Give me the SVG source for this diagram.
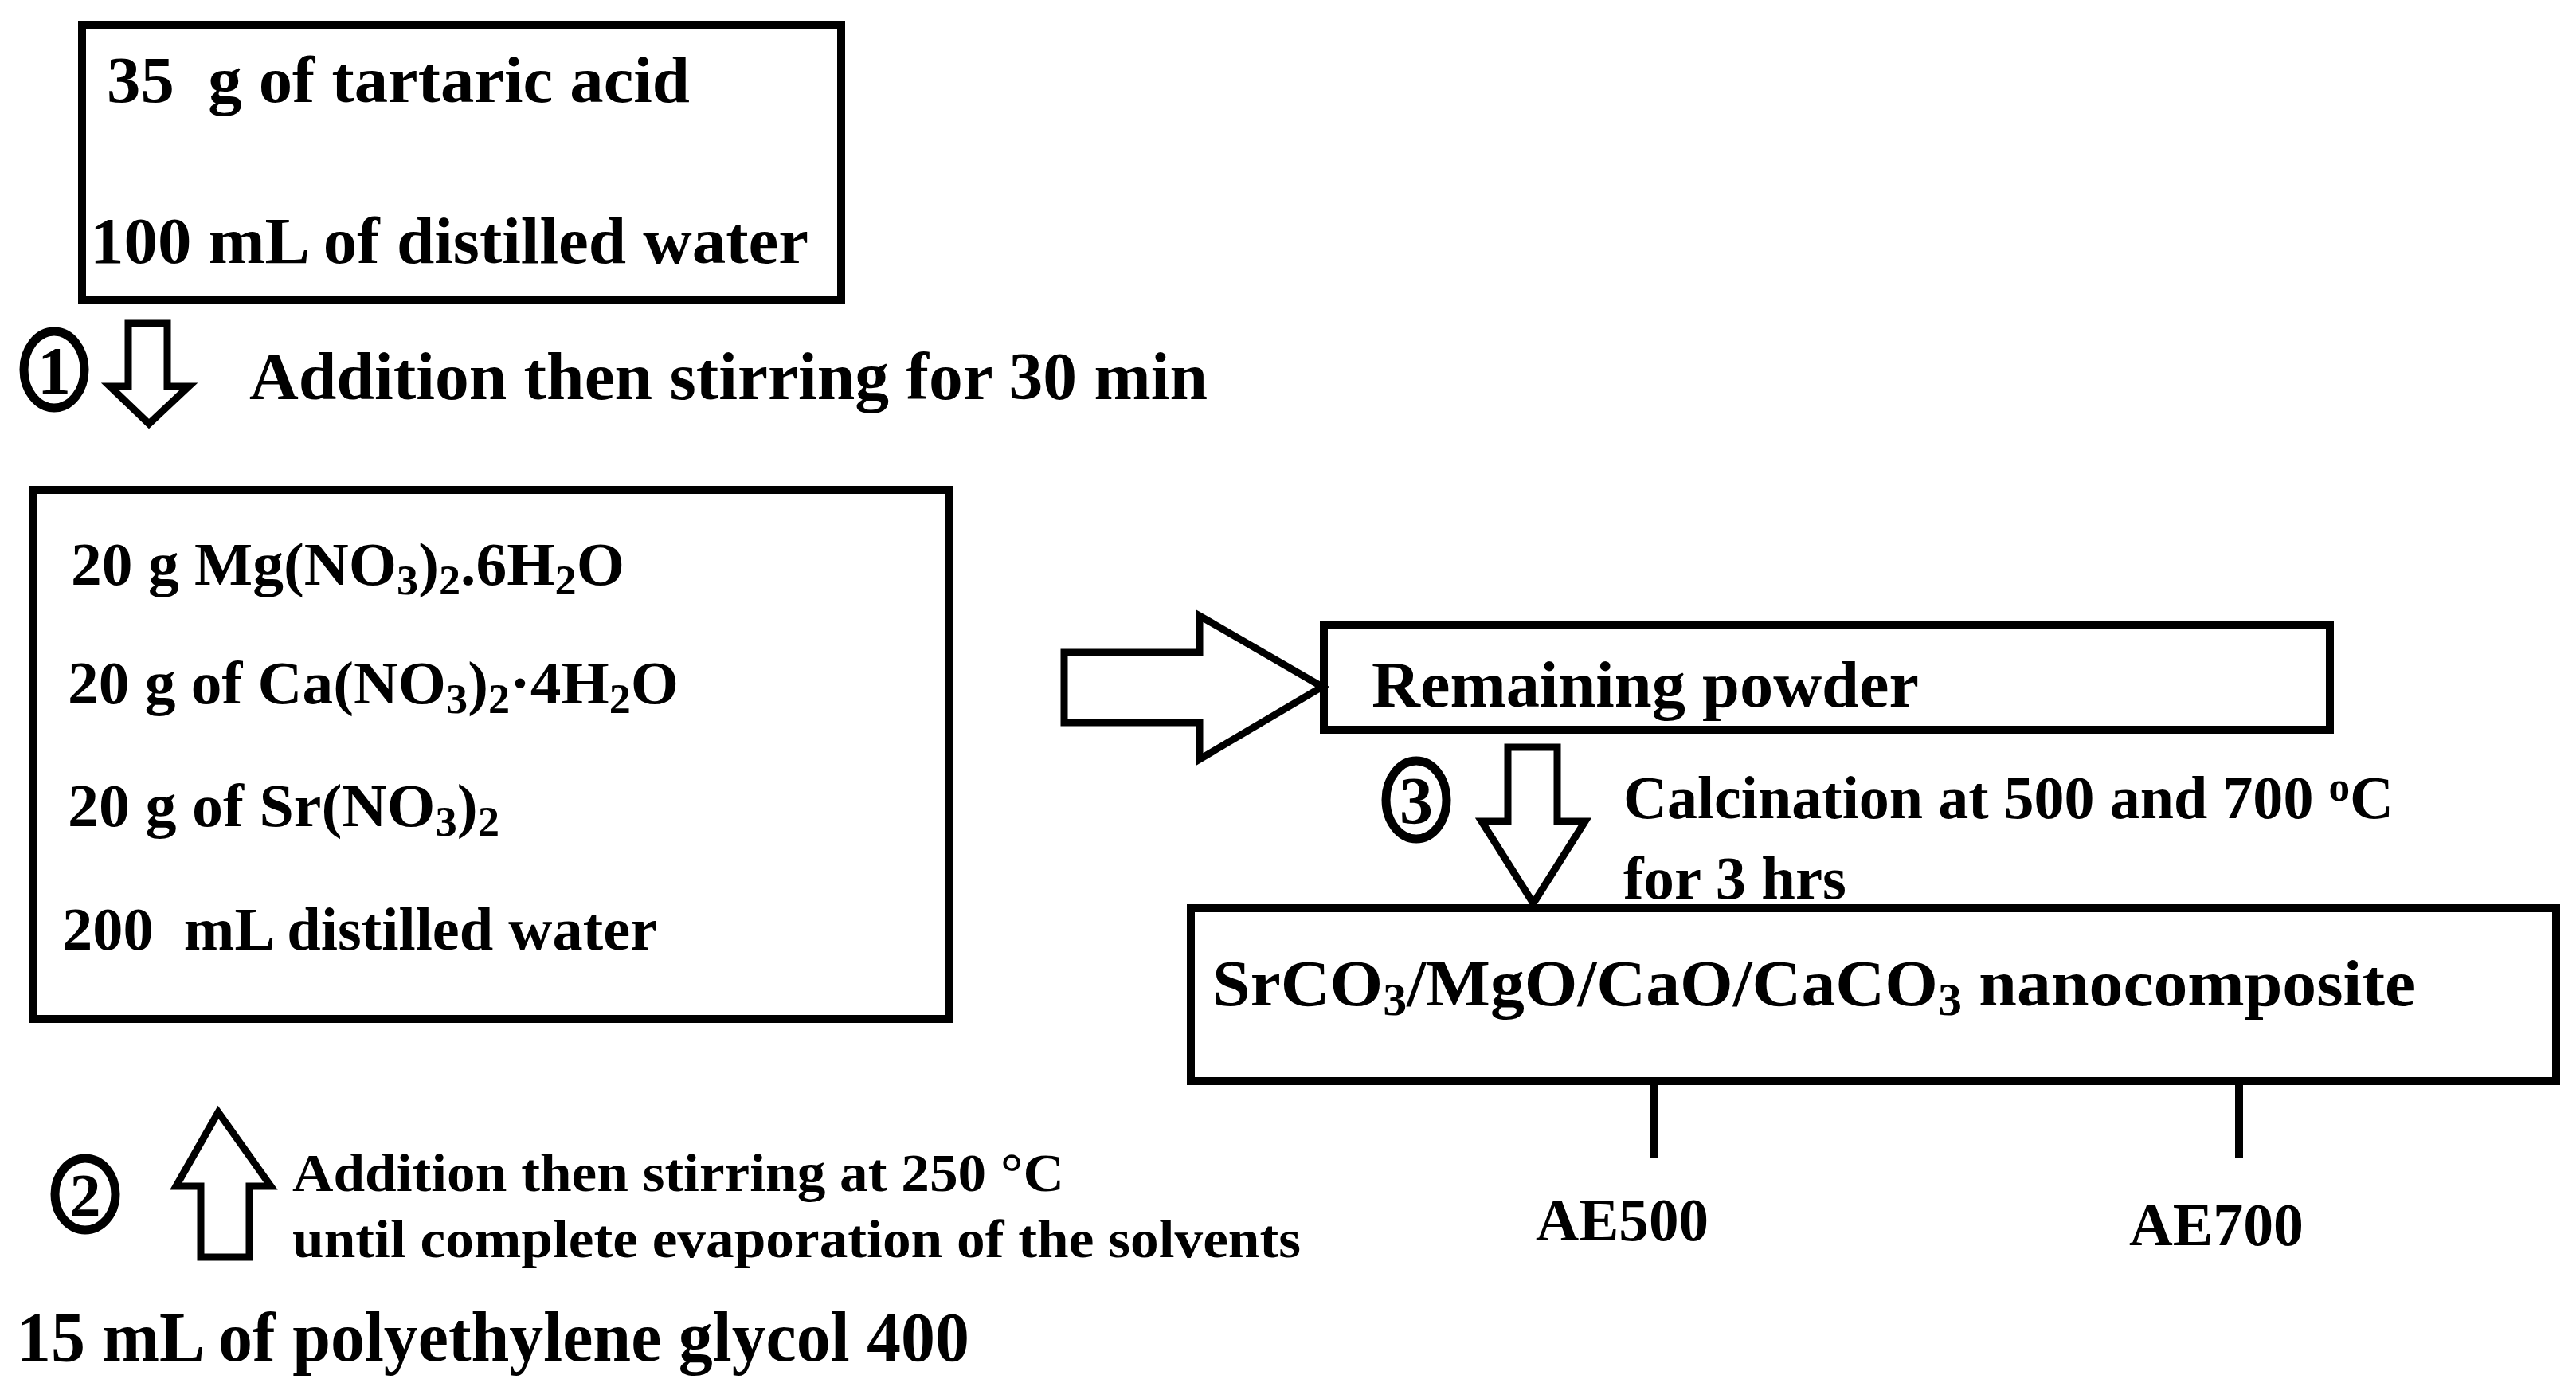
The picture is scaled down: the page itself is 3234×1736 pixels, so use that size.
<svg xmlns="http://www.w3.org/2000/svg" width="3234" height="1736" viewBox="0 0 3234 1736">
<style>
.b{fill:#fff;stroke:#000;stroke-width:10}
.t{font-family:"Liberation Serif",serif;font-weight:bold;fill:#000}
.a{fill:#fff;stroke:#000;stroke-width:9;stroke-linejoin:miter}
.c{fill:#fff;stroke:#000;stroke-width:11}
.s{font-size:0.7em}
</style>
<rect width="3234" height="1736" fill="#fff"/>
<g id="n1">
<rect class="b" x="103" y="31" width="953" height="346"/>
<text class="t" x="134" y="128" font-size="82" textLength="732" lengthAdjust="spacingAndGlyphs" xml:space="preserve">35  g of tartaric acid</text>
<text class="t" x="113" y="330" font-size="82" textLength="902" lengthAdjust="spacingAndGlyphs">100 mL of distilled water</text>
</g>
<g id="s1">
<ellipse class="c" cx="68" cy="464" rx="38" ry="48"/>
<text class="t" x="68" y="494" font-size="84" text-anchor="middle">1</text>
<text class="t" x="313" y="501" font-size="84" textLength="1203" lengthAdjust="spacingAndGlyphs">Addition then stirring for 30 min</text>
</g>
<g id="n2">
<rect class="b" x="41" y="615" width="1151" height="664"/>
<text class="t" x="89" y="734" font-size="76" textLength="695" lengthAdjust="spacingAndGlyphs">20 g Mg(NO<tspan class="s" dy="12">3</tspan><tspan dy="-12">)</tspan><tspan class="s" dy="12">2</tspan><tspan dy="-12">.6H</tspan><tspan class="s" dy="12">2</tspan><tspan dy="-12">O</tspan></text>
<text class="t" x="85" y="883" font-size="76" textLength="767" lengthAdjust="spacingAndGlyphs">20 g of Ca(NO<tspan class="s" dy="12">3</tspan><tspan dy="-12">)</tspan><tspan class="s" dy="12">2</tspan><tspan dy="-12">·4H</tspan><tspan class="s" dy="12">2</tspan><tspan dy="-12">O</tspan></text>
<text class="t" x="85" y="1037" font-size="76" textLength="542" lengthAdjust="spacingAndGlyphs">20 g of Sr(NO<tspan class="s" dy="12">3</tspan><tspan dy="-12">)</tspan><tspan class="s" dy="12">2</tspan></text>
<text class="t" x="78" y="1192" font-size="76" textLength="747" lengthAdjust="spacingAndGlyphs" xml:space="preserve">200  mL distilled water</text>
</g>
<g id="s2">
<ellipse class="c" cx="107" cy="1499" rx="38" ry="45"/>
<text class="t" x="107" y="1527" font-size="78" text-anchor="middle">2</text>
<text class="t" x="367" y="1495" font-size="68" textLength="969" lengthAdjust="spacingAndGlyphs">Addition then stirring at 250 °C</text>
<text class="t" x="367" y="1578" font-size="68" textLength="1266" lengthAdjust="spacingAndGlyphs">until complete evaporation of the solvents</text>
</g>
<g id="n0">
<text class="t" x="21" y="1708" font-size="88" textLength="1196" lengthAdjust="spacingAndGlyphs">15 mL of polyethylene glycol 400</text>
</g>
<g id="n3">
<rect class="b" x="1662" y="784" width="1263" height="132"/>
<text class="t" x="1722" y="887" font-size="82" textLength="687" lengthAdjust="spacingAndGlyphs">Remaining powder</text>
</g>
<g id="s3">
<ellipse class="c" cx="1778" cy="1004" rx="38" ry="49"/>
<text class="t" x="1778" y="1034" font-size="84" text-anchor="middle">3</text>
<text class="t" x="2038" y="1027" font-size="76" textLength="967" lengthAdjust="spacingAndGlyphs">Calcination at 500 and 700 <tspan class="s" dy="-22">o</tspan><tspan dy="22">C</tspan></text>
<text class="t" x="2038" y="1128" font-size="76" textLength="280" lengthAdjust="spacingAndGlyphs">for 3 hrs</text>
</g>
<g id="n4">
<rect class="b" x="1495" y="1140" width="1714" height="217"/>
<text class="t" x="1522" y="1262" font-size="82" textLength="1510" lengthAdjust="spacingAndGlyphs">SrCO<tspan class="s" dy="12">3</tspan><tspan dy="-12">/MgO/CaO/CaCO</tspan><tspan class="s" dy="12">3</tspan><tspan dy="-12"> nanocomposite</tspan></text>
</g>
<g id="n5"><text class="t" x="1928" y="1557" font-size="76" textLength="217" lengthAdjust="spacingAndGlyphs">AE500</text></g>
<g id="n6"><text class="t" x="2673" y="1563" font-size="76" textLength="219" lengthAdjust="spacingAndGlyphs">AE700</text></g>
<g id="connectors">
<polygon class="a" points="161,406 210,406 210,485 237,485 187,532 138,485 161,485"/>
<polygon class="a" points="252,1578 313,1578 313,1489 340,1489 274,1396 221,1489 252,1489"/>
<polygon class="a" points="1336,819 1506,819 1506,773 1660,862 1506,953 1506,907 1336,907"/>
<polygon class="a" points="1893,938 1955,938 1955,1031 1990,1031 1925,1134 1860,1031 1893,1031"/>
<line x1="2077" y1="1357" x2="2077" y2="1454" stroke="#000" stroke-width="10"/>
<line x1="2811" y1="1357" x2="2811" y2="1454" stroke="#000" stroke-width="10"/>
</g>
</svg>
